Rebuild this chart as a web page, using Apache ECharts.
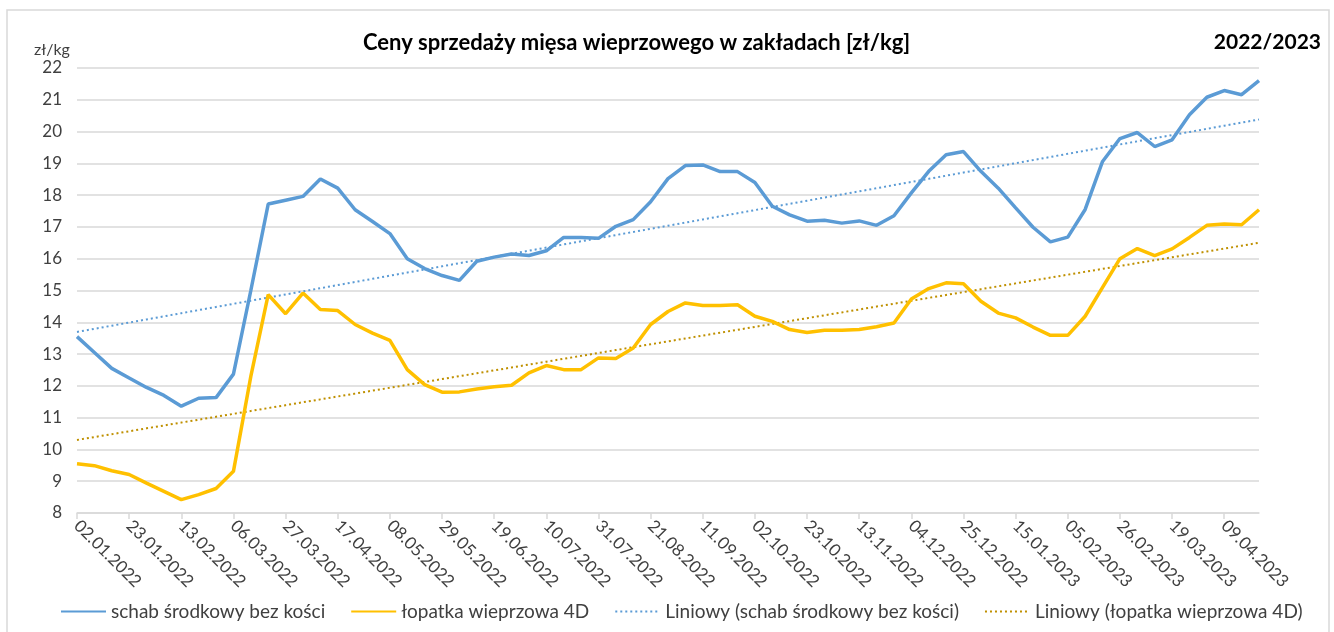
<!DOCTYPE html>
<html>
<head>
<meta charset="utf-8">
<script src="https://cdn.jsdelivr.net/npm/echarts@6/dist/echarts.min.js"></script>
<style>
  html, body { margin: 0; padding: 0; background: #fff; }
  #chart { width: 1334px; height: 632px; }
</style>
</head>
<body>
<div id="chart"></div>
<script>
// tygodnie od 02.01.2022 (co 7 dni)
var startDate = new Date(2022, 0, 2);
var weekCount = 69;

// schab środkowy bez kości [zł/kg]
var schab = [
  13.55, 13.05, 12.55, 12.25, 11.95, 11.70, 11.36, 11.61, 11.63, 12.37,
  15.00, 17.72, 17.84, 17.96, 18.51, 18.22, 17.54, 17.17, 16.79, 16.00,
  15.69, 15.47, 15.32, 15.92, 16.05, 16.15, 16.10, 16.25, 16.67, 16.67,
  16.64, 17.02, 17.23, 17.79, 18.52, 18.93, 18.95, 18.74, 18.74, 18.40,
  17.65, 17.38, 17.18, 17.21, 17.12, 17.19, 17.05, 17.35, 18.07, 18.75,
  19.27, 19.37, 18.75, 18.22, 17.60, 16.99, 16.53, 16.68, 17.55, 19.06,
  19.78, 19.97, 19.53, 19.74, 20.53, 21.08, 21.29, 21.16, 21.60
];

// łopatka wieprzowa 4D [zł/kg]
var lopatka = [
  9.55, 9.49, 9.33, 9.21, 8.94, 8.68, 8.42, 8.58, 8.77, 9.31,
  12.30, 14.87, 14.27, 14.92, 14.40, 14.37, 13.93, 13.66, 13.43, 12.51,
  12.04, 11.80, 11.81, 11.90, 11.97, 12.02, 12.41, 12.64, 12.51, 12.51,
  12.88, 12.86, 13.19, 13.93, 14.34, 14.61, 14.53, 14.53, 14.55, 14.19,
  14.03, 13.77, 13.68, 13.75, 13.75, 13.77, 13.86, 13.98, 14.73, 15.06,
  15.24, 15.21, 14.66, 14.29, 14.14, 13.85, 13.59, 13.59, 14.19, 15.10,
  16.00, 16.32, 16.10, 16.31, 16.67, 17.05, 17.09, 17.07, 17.54
];

var yTicks = { min: 8, max: 22, step: 1 };

function pad(n) { return n < 10 ? '0' + n : '' + n; }
var weeks = [];
for (var i = 0; i < weekCount; i++) {
  var d = new Date(startDate.getFullYear(), startDate.getMonth(), startDate.getDate() + 7 * i);
  weeks.push(pad(d.getDate()) + '.' + pad(d.getMonth() + 1) + '.' + d.getFullYear());
}

// linia trendu (regresja liniowa jak w Excelu)
function trend(values) {
  var n = values.length, sx = 0, sy = 0, sxy = 0, sxx = 0;
  for (var i = 0; i < n; i++) {
    sx += i; sy += values[i]; sxy += i * values[i]; sxx += i * i;
  }
  var b = (n * sxy - sx * sy) / (n * sxx - sx * sx);
  var a = (sy - b * sx) / n;
  return values.map(function (v, i) { return +(a + b * i).toFixed(3); });
}

var font = 'Lato, "Open Sans", sans-serif';
var myChart = echarts.init(document.getElementById('chart'));

var option = {
  animation: false,
  backgroundColor: '#fff',
  textStyle: { fontFamily: font },
  graphic: [{
    type: 'rect',
    shape: { x: 7, y: 10, width: 1322, height: 640 },
    style: { fill: 'none', stroke: '#d9d9d9', lineWidth: 1.5 },
    silent: true
  }],
  title: [{
    text: 'Ceny sprzedaży mięsa wieprzowego w zakładach [zł/kg]',
    left: 358,
    top: 27,
    textStyle: { fontSize: 22, fontWeight: 'bold', color: '#000', fontFamily: font }
  }, {
    text: '2022/2023',
    right: 8,
    top: 27,
    textStyle: { fontSize: 21, fontWeight: 'bold', color: '#000', fontFamily: font }
  }, {
    text: 'zł/kg',
    left: 29,
    top: 37,
    textStyle: { fontSize: 16, fontWeight: 'normal', color: '#404040', fontFamily: font }
  }],
  legend: {
    bottom: 6,
    left: 55,
    itemWidth: 45,
    itemHeight: 14,
    itemGap: 25,
    itemStyle: { opacity: 0 },
    textStyle: { fontSize: 19, color: '#404040', fontFamily: font },
    data: [
      'schab środkowy bez kości',
      'łopatka wieprzowa 4D',
      'Liniowy (schab środkowy bez kości)',
      'Liniowy (łopatka wieprzowa 4D)'
    ]
  },
  grid: { left: 77, right: 75, top: 68, bottom: 119 },
  xAxis: {
    type: 'category',
    boundaryGap: false,
    data: weeks,
    axisLine: { lineStyle: { color: '#d9d9d9', width: 1.5 } },
    axisTick: { interval: 2, length: 6, lineStyle: { color: '#d9d9d9', width: 1.5 } },
    axisLabel: {
      interval: 2,
      rotate: -45,
      fontSize: 17,
      color: '#404040',
      margin: 10,
      fontFamily: font
    }
  },
  yAxis: {
    type: 'value',
    min: yTicks.min,
    max: yTicks.max,
    interval: yTicks.step,
    axisLine: { show: false },
    axisTick: { show: false },
    axisLabel: { fontSize: 17, color: '#404040', margin: 15, fontFamily: font },
    splitLine: { lineStyle: { color: '#d9d9d9', width: 1.5 } }
  },
  series: [{
    name: 'schab środkowy bez kości',
    type: 'line',
    data: schab,
    symbol: 'none',
    z: 4,
    itemStyle: { color: '#5b9bd5' },
    lineStyle: { color: '#5b9bd5', width: 3.5 }
  }, {
    name: 'łopatka wieprzowa 4D',
    type: 'line',
    data: lopatka,
    symbol: 'none',
    z: 4,
    itemStyle: { color: '#ffc000' },
    lineStyle: { color: '#ffc000', width: 3.5 }
  }, {
    name: 'Liniowy (schab środkowy bez kości)',
    type: 'line',
    data: trend(schab),
    symbol: 'none',
    z: 3,
    itemStyle: { color: '#5b9bd5' },
    lineStyle: { color: '#5b9bd5', width: 2, type: [2, 3] }
  }, {
    name: 'Liniowy (łopatka wieprzowa 4D)',
    type: 'line',
    data: trend(lopatka),
    symbol: 'none',
    z: 3,
    itemStyle: { color: '#bf9000' },
    lineStyle: { color: '#bf9000', width: 2, type: [2, 3] }
  }]
};

myChart.setOption(option);
window.addEventListener('resize', function () {
  myChart.resize();
});
</script>
</body>
</html>
